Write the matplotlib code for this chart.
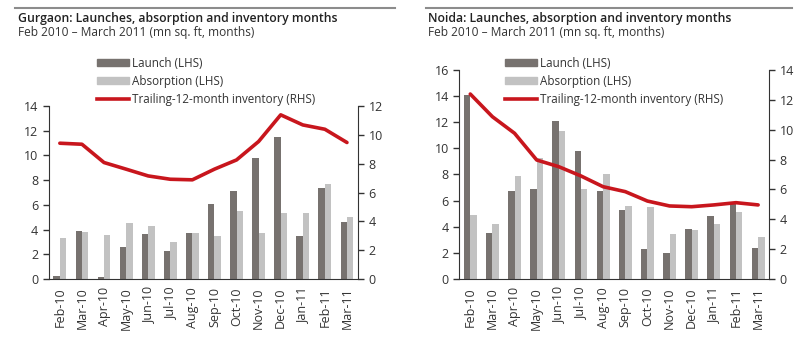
import matplotlib
matplotlib.use('Agg')
import matplotlib.pyplot as plt
from matplotlib.lines import Line2D
from matplotlib.patches import Patch
import numpy as np

plt.rcParams['font.family'] = ['Open Sans', 'DejaVu Sans']

months = ['Feb-10', 'Mar-10', 'Apr-10', 'May-10', 'Jun-10', 'Jul-10', 'Aug-10',
          'Sep-10', 'Oct-10', 'Nov-10', 'Dec-10', 'Jan-11', 'Feb-11', 'Mar-11']

# Gurgaon (mn sq. ft / months)
gur_launch = [0.25, 3.9, 0.15, 2.6, 3.65, 2.3, 3.7, 6.1, 7.15, 9.8, 11.5, 3.45, 7.35, 4.6]
gur_absorb = [3.3, 3.8, 3.55, 4.55, 4.3, 3.0, 3.75, 3.45, 5.5, 3.75, 5.35, 5.3, 7.7, 5.0]
gur_inv = [9.42, 9.35, 8.08, 7.62, 7.15, 6.92, 6.88, 7.62, 8.26, 9.54, 11.39, 10.69, 10.39, 9.47]

# Noida
noi_launch = [14.1, 3.5, 6.7, 6.85, 12.1, 9.8, 6.7, 5.25, 2.3, 2.0, 3.8, 4.85, 5.8, 2.35]
noi_absorb = [4.9, 4.2, 7.9, 9.25, 11.3, 6.9, 8.05, 5.55, 5.5, 3.45, 3.75, 4.2, 5.15, 3.2]
noi_inv = [12.39, 10.87, 9.76, 7.97, 7.52, 6.9, 6.18, 5.85, 5.22, 4.89, 4.84, 4.96, 5.11, 4.96]

dark = '#77726f'
light = '#c2c2c2'
red = '#c8161d'
txt = '#333333'

fig = plt.figure(figsize=(8, 3.5), dpi=100)


def panel(rect, launch, absorb, inv, lmax, rmax, title, x0, line_x, leg_x):
    ax = fig.add_axes(rect)
    x = np.arange(len(months))
    w = 0.29
    ax.bar(x - w / 2, launch, w, color=dark, zorder=2)
    ax.bar(x + w / 2, absorb, w, color=light, zorder=2)
    ax.set_xlim(-0.5, len(months) - 0.5)
    ax.set_ylim(0, lmax)
    ax.set_yticks(range(0, lmax + 1, 2))
    ax.set_xticks(x)
    ax.set_xticklabels(months, rotation=90)
    ax.tick_params(axis='x', length=0, pad=6, labelsize=9, colors=txt)
    ax.tick_params(axis='y', length=4, width=1, labelsize=9, colors=txt)
    for s in ['top', 'right']:
        ax.spines[s].set_visible(False)
    for s in ['left', 'bottom']:
        ax.spines[s].set_color(txt)

    ax2 = ax.twinx()
    ax2.plot(x, inv, color=red, lw=2.6, solid_joinstyle='round', solid_capstyle='round', zorder=3)
    ax2.set_ylim(0, rmax)
    ax2.set_yticks(range(0, rmax + 1, 2))
    ax2.tick_params(axis='y', length=4, width=1, labelsize=9, colors=txt)
    ax2.spines['top'].set_visible(False)
    ax2.spines['left'].set_visible(False)
    ax2.spines['bottom'].set_visible(False)
    ax2.spines['right'].set_color(txt)

    handles = [Patch(color=dark), Patch(color=light), Line2D([], [], color=red, lw=2.6)]
    labels = ['Launch (LHS)', 'Absorption (LHS)', 'Trailing-12-month inventory (RHS)']
    ax2.legend(handles, labels, loc='upper left', bbox_to_anchor=(leg_x, 0.838),
               bbox_transform=fig.transFigure, frameon=False, fontsize=8.4,
               handlelength=2.75, handleheight=0.55, handletextpad=0.25,
               labelspacing=0.45, borderpad=0, borderaxespad=0, labelcolor=txt)

    # header
    fig.add_artist(Line2D(line_x, [0.978, 0.978], color='#8c8c8c', lw=1.5,
                          transform=fig.transFigure))
    fig.text(x0, 0.948, title, fontsize=8.8, fontweight='semibold', color='#222222',
             va='center', ha='left')
    fig.text(x0, 0.906, 'Feb 2010 \u2013 March 2011 (mn sq. ft, months)', fontsize=8.6,
             color=txt, va='center', ha='left')


panel([0.061, 0.203, 0.3865, 0.494], gur_launch, gur_absorb, gur_inv, 14, 12,
      'Gurgaon: Launches, absorption and inventory months', 0.022, [0.019, 0.494], 0.121)
panel([0.574, 0.203, 0.3875, 0.597], noi_launch, noi_absorb, noi_inv, 16, 14,
      'Noida: Launches, absorption and inventory months', 0.535, [0.532, 0.99], 0.631)

plt.savefig('out.png', dpi=100)
